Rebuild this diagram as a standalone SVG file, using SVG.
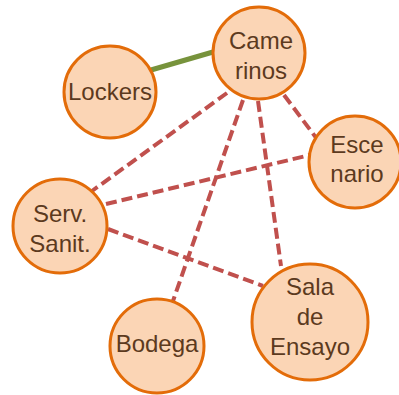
<svg xmlns="http://www.w3.org/2000/svg" width="399" height="395" viewBox="0 0 399 395">
<style>
.n{fill:#FBD5B5;stroke:#E36C09;stroke-width:3}
.t{font-family:"Liberation Sans",Arial,sans-serif;font-size:24px;fill:#5C3A1E;text-anchor:middle}
.d{stroke:#C0504D;stroke-width:4;stroke-dasharray:11 5;fill:none}
.g{stroke:#77933C;stroke-width:5;fill:none}
</style>
<rect width="399" height="395" fill="#fff"/>
<g id="connectors">
<line class="g" x1="151" y1="70" x2="213" y2="52"/>
<line class="d" x1="227" y1="93" x2="92" y2="191"/>
<line class="d" x1="243" y1="100" x2="173" y2="301"/>
<line class="d" x1="258" y1="101" x2="281" y2="266"/>
<line class="d" x1="284" y1="95" x2="317" y2="139"/>
<line class="d" x1="106" y1="204" x2="310" y2="155"/>
<line class="d" x1="108" y1="229" x2="263" y2="286"/>
</g>
<g id="camerinos"><circle class="n" cx="259" cy="53" r="46"/><text class="t" x="261" y="49">Came</text><text class="t" x="261" y="79">rinos</text></g>
<g id="lockers"><circle class="n" cx="110" cy="92" r="46"/><text class="t" x="110" y="100">Lockers</text></g>
<g id="escenario"><circle class="n" cx="355" cy="162" r="46"/><text class="t" x="357" y="153">Esce</text><text class="t" x="357" y="182">nario</text></g>
<g id="serv"><circle class="n" cx="60" cy="226" r="47"/><text class="t" x="60" y="222">Serv.</text><text class="t" x="60" y="252">Sanit.</text></g>
<g id="bodega"><circle class="n" cx="157" cy="346" r="47"/><text class="t" x="157" y="352">Bodega</text></g>
<g id="sala"><circle class="n" cx="310" cy="322" r="58"/><text class="t" x="310" y="295">Sala</text><text class="t" x="310" y="325">de</text><text class="t" x="310" y="355">Ensayo</text></g>
</svg>
